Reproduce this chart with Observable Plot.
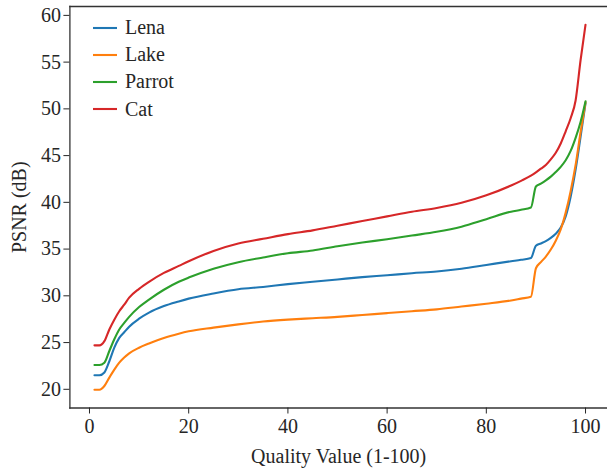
<!DOCTYPE html>
<html><head><meta charset="utf-8">
<script src="https://cdn.jsdelivr.net/npm/d3@7"></script>
<script src="https://cdn.jsdelivr.net/npm/@observablehq/plot@0.6"></script>
<style>
body{margin:0;background:#fff}
#wrap{position:relative;width:607px;height:474px}
#legend{position:absolute;left:93px;top:14px;font-family:"Liberation Serif",serif;font-size:20px;color:#262626}
.row{display:flex;align-items:center;height:27.2px}
.row svg{margin-right:8px}
</style>
</head><body><div id="wrap"><div id="legend"></div></div>
<script>
const series = ["Lena", "Lake", "Parrot", "Cat"];
const colors = ["#1f77b4", "#ff7f0e", "#2ca02c", "#d62728"];
const quality = [1,2,3,4,5,6,7,8,10,12,15,18,20,25,30,35,40,45,50,55,60,65,70,75,80,85,87,89,90,91,92,93,94,95,96,97,98,99,100];
const lena   = [21.5,21.5,21.8,23.0,24.45,25.5,26.1,26.7,27.55,28.2,28.9,29.4,29.7,30.25,30.7,30.95,31.25,31.5,31.75,32.0,32.2,32.42,32.6,32.9,33.3,33.7,33.85,34.05,35.36,35.6,35.85,36.2,36.65,37.3,38.5,40.6,43.5,47.0,50.6];
const lake   = [19.95,19.95,20.35,21.25,22.1,22.85,23.4,23.85,24.45,24.9,25.5,25.95,26.2,26.6,26.95,27.25,27.45,27.6,27.75,27.95,28.15,28.35,28.55,28.85,29.15,29.5,29.7,29.9,32.95,33.6,34.2,34.95,35.9,37.1,38.9,41.2,44.0,47.5,50.7];
const parrot = [22.6,22.6,22.85,24.1,25.35,26.4,27.1,27.75,28.8,29.6,30.65,31.5,31.95,32.9,33.6,34.1,34.55,34.85,35.3,35.7,36.05,36.45,36.85,37.4,38.2,39.0,39.2,39.45,41.7,42.0,42.35,42.75,43.25,43.8,44.5,45.5,46.9,48.6,50.8];
const cat    = [24.7,24.7,25.15,26.4,27.45,28.35,29.05,29.8,30.75,31.5,32.45,33.2,33.7,34.8,35.6,36.1,36.6,37.0,37.5,38.0,38.5,39.0,39.4,39.95,40.75,41.8,42.3,42.85,43.2,43.6,44.0,44.6,45.3,46.3,47.6,49.0,50.9,55.2,59.0];
const xTicks = [0,20,40,60,80,100];
const yTicks = [20,25,30,35,40,45,50,55,60];

const values = [lena, lake, parrot, cat];
const data = series.flatMap((s, i) => quality.map((q, j) => ({q, v: values[i][j], s})));

const plot = Plot.plot({
  width: 607, height: 474,
  marginLeft: 69.4, marginRight: 0, marginTop: 6, marginBottom: 66.5,
  x: {domain: [-3.95, 104.43]},
  y: {domain: [18.0, 60.95]},
  color: {domain: series, range: colors},
  style: {fontFamily: "Liberation Serif, serif", fontSize: "20px", color: "#262626", background: "#fff"},
  marks: [
    Plot.line(data, {x: "q", y: "v", stroke: "s", z: "s", curve: "monotone-x", strokeWidth: 2.1, strokeLinejoin: "round"}),
    Plot.frame({anchor: "left", stroke: "#333", strokeWidth: 1.3}),
    Plot.frame({anchor: "top", stroke: "#333", strokeWidth: 1.3}),
    Plot.frame({anchor: "bottom", stroke: "#333", strokeWidth: 1.3}),
    Plot.axisX({ticks: xTicks, tickSize: 6, tickPadding: 5, tickFormat: d => String(d), label: "Quality Value (1-100)", labelAnchor: "center", labelArrow: "none", labelOffset: 55, fontSize: 20}),
    Plot.axisY({ticks: yTicks, tickSize: 6, tickPadding: 3, tickFormat: d => String(d), label: "PSNR (dB)", labelAnchor: "center", labelArrow: "none", labelOffset: 58, fontSize: 20})
  ]
});
document.getElementById("wrap").prepend(plot);

const legend = document.getElementById("legend");
series.forEach((s, i) => {
  const row = document.createElement("div");
  row.className = "row";
  row.innerHTML = `<svg width="24" height="4"><line x1="0" x2="24" y1="2" y2="2" stroke="${colors[i]}" stroke-width="2.1"/></svg><span>${s}</span>`;
  legend.appendChild(row);
});
</script>
</body></html>
